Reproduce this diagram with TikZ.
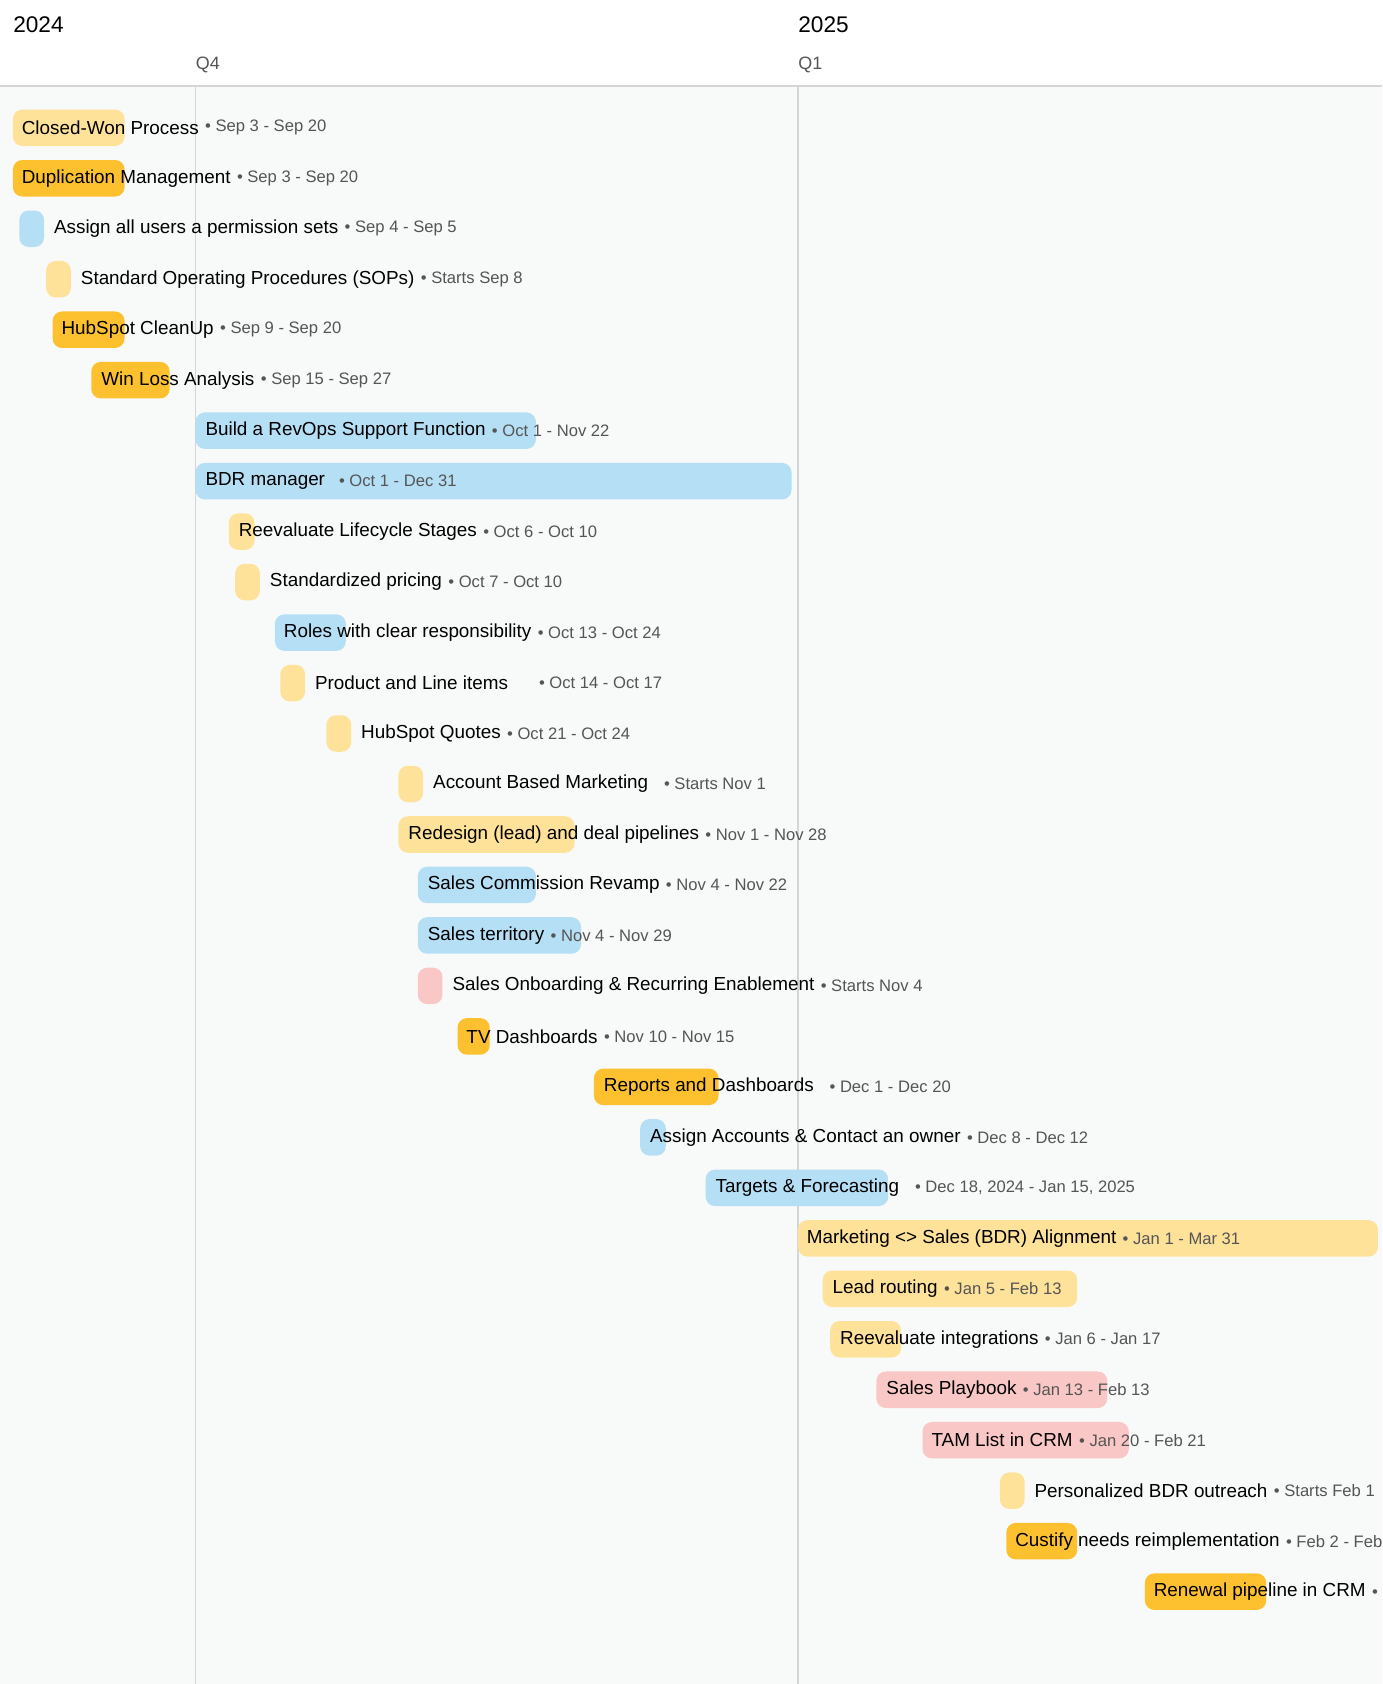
\documentclass[tikz,border=0pt]{standalone}
\usepackage{fontspec}
\setmainfont{Liberation Sans}
\usetikzlibrary{positioning}
\definecolor{lyel}{HTML}{FEE29A}
\definecolor{oran}{HTML}{FDC12F}
\definecolor{lblu}{HTML}{B5DFF5}
\definecolor{pink}{HTML}{F9C8C6}
\definecolor{bggr}{HTML}{F8F9F9}
\definecolor{grid}{HTML}{D3D5D7}
\definecolor{datec}{HTML}{555555}
\tikzset{
  title/.style={anchor=west, inner sep=0pt, font=\fontsize{10}{12}\selectfont},
  datetxt/.style={inner sep=0pt, font=\fontsize{8.8}{10}\selectfont, text=datec},
  head/.style={anchor=west, inner sep=0pt},
}
\begin{document}
\begin{tikzpicture}[x=0.02cm, y=-0.02cm]
  \useasboundingbox (0,0) rectangle (1287,1568);
  \clip (0,0) rectangle (1287,1568);
  % background
  \fill[bggr] (0,80) rectangle (1287,1568);
  \draw[grid, line width=0.8pt] (0,80) -- (1287,80);
  \draw[grid, line width=0.8pt] (182,80) -- (182,1568);
  \draw[grid, line width=0.8pt] (743,80) -- (743,1568);
  % header
  \node[head, font=\fontsize{12}{14}\selectfont] (y24) at (12,23) {2024};
  \node[head, font=\fontsize{12}{14}\selectfont] (y25) at (743,23) {2025};
  \node[head, font=\fontsize{9.5}{11}\selectfont, text=datec] (q4) at (182,60) {Q4};
  \node[head, font=\fontsize{9.5}{11}\selectfont, text=datec] (q1) at (743,60) {Q1};
  % tasks (last field: extra gap before the date)
  \foreach \i/\xa/\xb/\col/\xt/\txt/\dat/\gap in {
    1/12/116/lyel/20/Closed-Won Process/Sep 3 - Sep 20/0,
    2/12/116/oran/20/Duplication Management/Sep 3 - Sep 20/0,
    3/18/41/lblu/50/Assign all users a permission sets/Sep 4 - Sep 5/0,
    4/43/66/lyel/75/Standard Operating Procedures (SOPs)/Starts Sep 8/0,
    5/49/116/oran/57/HubSpot CleanUp/Sep 9 - Sep 20/0,
    6/85/158/oran/94/Win Loss Analysis/Sep 15 - Sep 27/0,
    7/182/499/lblu/191/Build a RevOps Support Function/Oct 1 - Nov 22/0,
    8/182/737/lblu/191/BDR manager/Oct 1 - Dec 31/4,
    9/213/237/lyel/222/Reevaluate Lifecycle Stages/Oct 6 - Oct 10/0,
    10/219/242/lyel/251/Standardized pricing/Oct 7 - Oct 10/0,
    11/256/322/lblu/264/Roles with clear responsibility/Oct 13 - Oct 24/0,
    12/261/284/lyel/293/Product and Line items/Oct 14 - Oct 17/13,
    13/304/327/lyel/336/HubSpot Quotes/Oct 21 - Oct 24/0,
    14/371/394/lyel/403/Account Based Marketing/Starts Nov 1/5,
    15/371/535/lyel/380/Redesign (lead) and deal pipelines/Nov 1 - Nov 28/0,
    16/389/499/lblu/398/Sales Commission Revamp/Nov 4 - Nov 22/0,
    17/389/541/lblu/398/Sales territory/Nov 4 - Nov 29/0,
    18/389/412/pink/421/Sales Onboarding \& Recurring Enablement/Starts Nov 4/0,
    19/426/456/oran/434/TV Dashboards/Nov 10 - Nov 15/0,
    20/553/669/oran/562/Reports and Dashboards/Dec 1 - Dec 20/5,
    21/596/620/lblu/605/Assign Accounts \& Contact an owner/Dec 8 - Dec 12/0,
    22/657/827/lblu/666/Targets \& Forecasting/{Dec 18, 2024 - Jan 15, 2025}/5,
    23/743/1283/lyel/751/Marketing <> Sales (BDR) Alignment/Jan 1 - Mar 31/0,
    24/766/1003/lyel/775/Lead routing/Jan 5 - Feb 13/0,
    25/773/839/lyel/782/Reevaluate integrations/Jan 6 - Jan 17/0,
    26/816/1031/pink/825/Sales Playbook/Jan 13 - Feb 13/0,
    27/859/1051/pink/867/TAM List in CRM/Jan 20 - Feb 21/0,
    28/931/954/lyel/963/Personalized BDR outreach/Starts Feb 1/0,
    29/937/1003/oran/945/Custify needs reimplementation/Feb 2 - Feb 28/0,
    30/1066/1179/oran/1074/Renewal pipeline in CRM/Feb 10 - Mar 31/0}
  {
    \pgfmathsetmacro{\yc}{119+47*(\i-1)}
    \fill[\col, rounded corners=5pt] (\xa,\yc-17) rectangle (\xb,\yc+17);
    \node[title] (t\i) at (\xt,\yc) {\txt};
    \node[datetxt, right=3pt+\gap pt of t\i.east, anchor=west] (d\i) {\textbullet\ \dat};
  }
\end{tikzpicture}
\end{document}
